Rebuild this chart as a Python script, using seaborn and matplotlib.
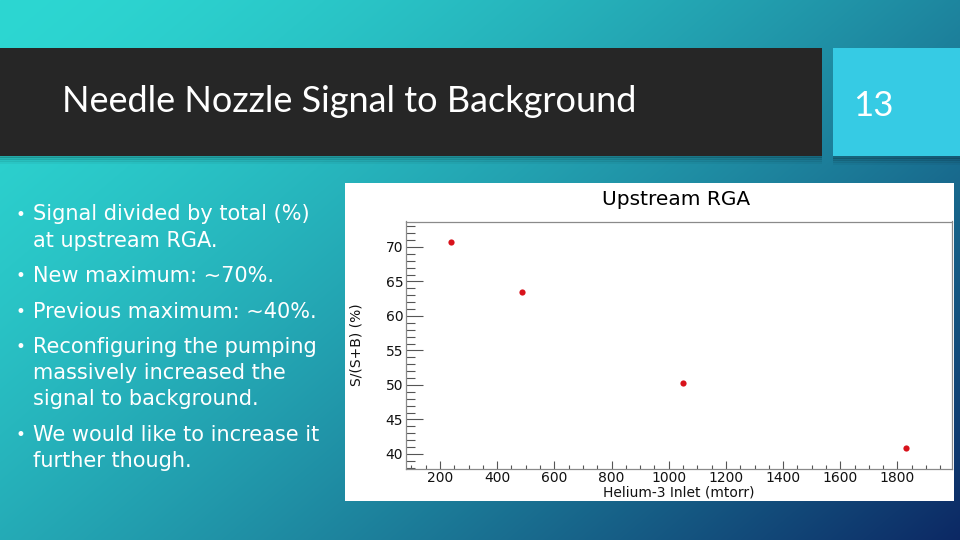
import numpy as np
import pandas as pd
import matplotlib
matplotlib.use("Agg")
import matplotlib.pyplot as plt
from matplotlib.patches import Rectangle
from matplotlib.ticker import MultipleLocator
import seaborn as sns

# ---------------- data ----------------
inlet_mtorr = [240, 486, 1050, 1830]
signal_ratio = [70.7, 63.45, 50.35, 40.85]

slide_title = "Needle Nozzle Signal to Background"
slide_number = "13"
chart_title = "Upstream RGA"
x_label = "Helium-3 Inlet (mtorr)"
y_label = "S/(S+B) (%)"
bullets = [
    ["Signal divided by total (%)", "at upstream RGA."],
    ["New maximum: ~70%."],
    ["Previous maximum: ~40%."],
    ["Reconfiguring the pumping", "massively increased the", "signal to background."],
    ["We would like to increase it", "further though."],
]

# ---------------- figure ----------------
sns.set_style("white")
plt.rcParams["font.family"] = ["DejaVu Sans"]

W, H = 960, 540
fig = plt.figure(figsize=(9.6, 5.4), dpi=100)

# background gradient
bg = fig.add_axes([0, 0, 1, 1])
yy, xx = np.mgrid[0:H, 0:W]
s = np.clip((xx / W) * 0.6 + (yy / H) * 0.4, 0, 1) ** 1.5
c0 = np.array([45, 215, 210]) / 255.0
c1 = np.array([12, 40, 100]) / 255.0
img = c0[None, None, :] * (1 - s[..., None]) + c1[None, None, :] * s[..., None]
bg.imshow(img, extent=[0, W, H, 0], aspect="auto", zorder=0)
bg.set_xlim(0, W)
bg.set_ylim(H, 0)
bg.axis("off")

# shadows
for i, a in enumerate([0.18, 0.12, 0.07, 0.04]):
    bg.add_patch(Rectangle((0, 155 + i * 2), 822, 2.5, color="black", alpha=a, lw=0, zorder=1))
    bg.add_patch(Rectangle((833, 156 + i * 2), 127, 2.5, color="black", alpha=a, lw=0, zorder=1))

# title bar and number box
bg.add_patch(Rectangle((0, 48), 822, 107.5, color="#262626", lw=0, zorder=2))
bg.add_patch(Rectangle((833, 48), 127, 108, color="#36cbe4", lw=0, zorder=2))
bg.text(62, 111.7, slide_title, color="white", fontsize=26, family=["Lato", "DejaVu Sans"],
        ha="left", va="baseline", zorder=3)
bg.text(853, 116, slide_number, color="white", fontsize=25, family=["Lato", "DejaVu Sans"],
        ha="left", va="baseline", zorder=3)

# bullets
line_baselines = [[220, 246.7], [281.7], [317.7], [353, 379, 405], [440.7, 466.7]]
for items, ys in zip(bullets, line_baselines):
    bg.text(15.5, ys[0] - 0.5, "•", color="white", fontsize=12, family=["DejaVu Sans"],
            ha="left", va="baseline", zorder=3)
    for txt, yb in zip(items, ys):
        bg.text(33, yb, txt, color="white", fontsize=15, family=["DejaVu Sans"],
                ha="left", va="baseline", zorder=3)

# white chart panel
bg.add_patch(Rectangle((345, 183), 609, 318, color="white", lw=0, zorder=2))
bg.text(676, 205, chart_title, color="black", fontsize=14.5, ha="center", va="baseline", zorder=3)

# chart axes
L, R, T, B = 406, 951.5, 221.5, 468.7
ax = fig.add_axes([L / W, 1 - B / H, (R - L) / W, (B - T) / H])
ax.set_facecolor("white")
df = pd.DataFrame({"inlet": inlet_mtorr, "ratio": signal_ratio})
sns.scatterplot(data=df, x="inlet", y="ratio", ax=ax, color="#d8121b", s=20, linewidth=0, zorder=3)

xr = max(inlet_mtorr) - min(inlet_mtorr)
yr = max(signal_ratio) - min(signal_ratio)
ax.set_xlim(min(inlet_mtorr) - 0.1 * xr, max(inlet_mtorr) + 0.1 * xr)
ax.set_ylim(min(signal_ratio) - 0.1 * yr, max(signal_ratio) + 0.1 * yr)

ax.xaxis.set_major_locator(MultipleLocator(200))
ax.xaxis.set_minor_locator(MultipleLocator(50))
ax.yaxis.set_major_locator(MultipleLocator(5))
ax.yaxis.set_minor_locator(MultipleLocator(1))

tick_col = "#555555"
ax.tick_params(axis="both", which="both", direction="in", color=tick_col, width=0.8,
               labelsize=10, labelcolor="#111111", top=False, right=False,
               bottom=True, left=True)
ax.tick_params(axis="y", which="major", length=12.2, pad=2)
ax.tick_params(axis="y", which="minor", length=6.5)
ax.tick_params(axis="x", which="major", length=5.5, pad=2)
ax.tick_params(axis="x", which="minor", length=2.7)

for sp in ax.spines.values():
    sp.set_visible(True)
    sp.set_color("#8a8a8a")
    sp.set_linewidth(0.9)

ax.set_xlabel(x_label, fontsize=10, color="#111111", labelpad=0)
ax.set_ylabel(y_label, fontsize=10, color="#111111", labelpad=16)

fig.savefig("out.png", dpi=100)
